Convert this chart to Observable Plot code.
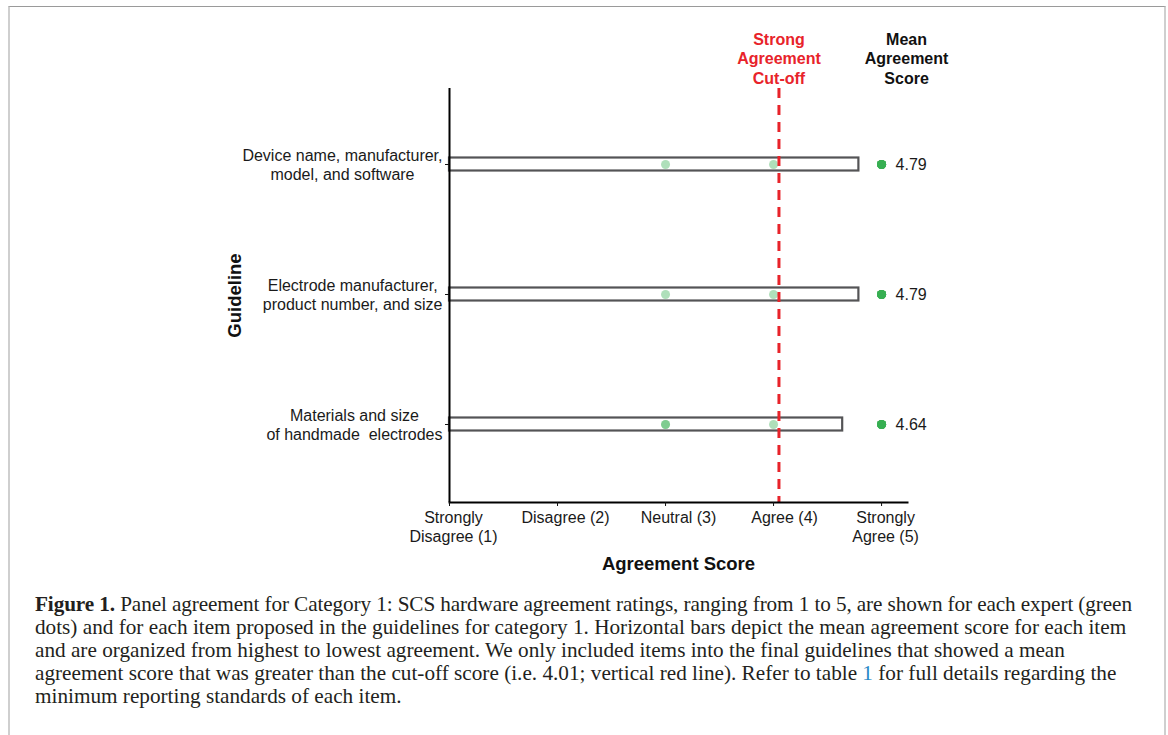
<!DOCTYPE html>
<html><head><meta charset="utf-8">
<script src="https://cdn.jsdelivr.net/npm/d3@7"></script>
<script src="https://cdn.jsdelivr.net/npm/@observablehq/plot@0.6"></script>
<style>
body{margin:0;background:#fff;width:1168px;height:735px;overflow:hidden;position:relative;}
#frame{position:absolute;left:8px;top:6px;width:1154px;height:760px;border-top:1px solid #9a9a9a;border-left:2px solid #cfcfcf;border-right:2px solid #cfcfcf;}
#chart{position:absolute;left:0;top:0;}
#chart svg text{white-space:pre;}
#caption{position:absolute;left:35px;top:593px;font-family:"Liberation Serif","Times New Roman",serif;font-size:18px;line-height:23px;color:#231f20;white-space:nowrap;}
#caption .link{color:#2a8ac6;}
#line1{letter-spacing:-0.11px;}
</style></head>
<body>
<div id="frame"></div>
<div id="chart"></div>
<div id="caption">
<span id="line1"><b>Figure 1.</b> Panel agreement for Category 1: SCS hardware agreement ratings, ranging from 1 to 5, are shown for each expert (green</span><br>
<span id="refline">dots) and for each item proposed in the guidelines for category 1. Horizontal bars depict the mean agreement score for each item</span><br>
and are organized from highest to lowest agreement. We only included items into the final guidelines that showed a mean<br>
agreement score that was greater than the cut-off score (i.e. 4.01; vertical red line). Refer to table <span class="link">1</span> for full details regarding the<br>
minimum reporting standards of each item.
</div>
<script>
// ---- data ----
const guidelines = [
  "Device name, manufacturer,\nmodel, and software",
  "Electrode manufacturer,\nproduct number, and size",
  "Materials and size\nof handmade  electrodes"
];
const meanScores = [4.79, 4.79, 4.64];
const expertRatings = [
  [5,5,5,5,5,5,5,5,5,5,5,5,4,3],
  [5,5,5,5,5,5,5,5,5,5,5,5,4,3],
  [5,5,5,5,5,5,5,5,5,5,5,4,3,3]
];
const cutoff = 4.05;
const tickValues = [1, 2, 3, 4, 5];
const tickLabels = ["Strongly\nDisagree (1)", "Disagree (2)", "Neutral (3)", "Agree (4)", "Strongly\nAgree (5)"];
const xLabel = "Agreement Score";
const yLabel = "Guideline";
const cutoffHeader = "Strong\nAgreement\nCut-off";
const meanHeader = "Mean\nAgreement\nScore";

// ---- style: horizontal nudges of the x tick labels (px), as placed in the original ----
const tickLabelNudge = [4, 8, 13, 11, 4];

// ---- tables ----
const bars = guidelines.map((g, i) => ({guideline: g, mean: meanScores[i]}));
const ratings = guidelines.flatMap((g, i) => expertRatings[i].map(r => ({guideline: g, rating: r})));

const sans = '"Liberation Sans", Arial, sans-serif';
const canvas = document.createElement("canvas");
const ctx = canvas.getContext("2d");
function textWidth(s, font) { ctx.font = font; return ctx.measureText(s).width; }

const yLabelMarks = guidelines.map(g => {
  const w = Math.max(...g.split("\n").map(l => textWidth(l, `16px ${sans}`)));
  return Plot.text([g], {x: 1, y: d => d, text: d => d, textAnchor: "middle", dx: -7 - w / 2, lineHeight: 1.19, fontSize: 16, fill: "#1a1a1a"});
});
const xLabelMarks = tickValues.map((v, i) =>
  Plot.text([v], {x: d => d, text: () => tickLabels[i], frameAnchor: "bottom", lineAnchor: "top", textAnchor: "middle", dy: 7, dx: tickLabelNudge[i], lineHeight: 1.19, fontSize: 16, fill: "#1a1a1a"})
);

const chart = Plot.plot({
  width: 1168, height: 580,
  marginLeft: 449, marginRight: 261, marginTop: 88, marginBottom: 78,
  style: {fontFamily: sans, fontSize: "16px", color: "#111", background: "transparent"},
  x: {domain: [1, 5.24]},
  y: {domain: guidelines, padding: 0, insetTop: 11, insetBottom: 13},
  marks: [
    Plot.barX(bars, {x1: 1, x2: "mean", y: "guideline", fill: "white", stroke: "#545456", strokeWidth: 2.2, insetTop: 58.5, insetBottom: 58.5}),
    Plot.dot(ratings, {x: "rating", y: "guideline", r: 4.5, fill: "#36b053", fillOpacity: 0.4}),
    Plot.ruleX([cutoff], {stroke: "#e8232a", strokeWidth: 3, strokeDasharray: "10,7"}),
    Plot.text(bars, {x: 5, y: "guideline", text: d => d.mean.toFixed(2), textAnchor: "start", dx: 14, fontSize: 16, fill: "#1a1a1a"}),
    Plot.ruleX([1], {stroke: "black", strokeWidth: 2}),
    Plot.frame({anchor: "bottom", stroke: "black", strokeWidth: 2}),
    Plot.axisX({ticks: tickValues, tickFormat: () => "", tickSize: 4, label: null}),
    Plot.axisY({tickSize: 4, tickFormat: () => "", label: null}),
    ...yLabelMarks,
    ...xLabelMarks,
    Plot.text([xLabel], {frameAnchor: "bottom", text: d => d, lineAnchor: "middle", textAnchor: "middle", dy: 62, fontWeight: "bold", fontSize: 18.5}),
    Plot.text([yLabel], {frameAnchor: "left", text: d => d, textAnchor: "middle", lineAnchor: "middle", dx: -214, rotate: -90, fontWeight: "bold", fontSize: 18.5}),
    Plot.text([cutoffHeader], {x: cutoff, text: d => d, frameAnchor: "top", lineAnchor: "bottom", dy: -5, fill: "#e8232a", fontWeight: "bold", fontSize: 16, lineHeight: 1.19}),
    Plot.text([meanHeader], {x: 5, text: d => d, frameAnchor: "top", lineAnchor: "bottom", dx: 25, dy: -5, fontWeight: "bold", fontSize: 16, lineHeight: 1.19})
  ]
});
document.getElementById("chart").appendChild(chart);

// fit caption font so that the second line spans like the original
const ref = document.getElementById("refline").textContent;
const w18 = textWidth(ref, '18px "Liberation Serif"');
const fs = 18 * 1091 / w18;
document.getElementById("caption").style.fontSize = fs.toFixed(2) + "px";
</script>
</body></html>
